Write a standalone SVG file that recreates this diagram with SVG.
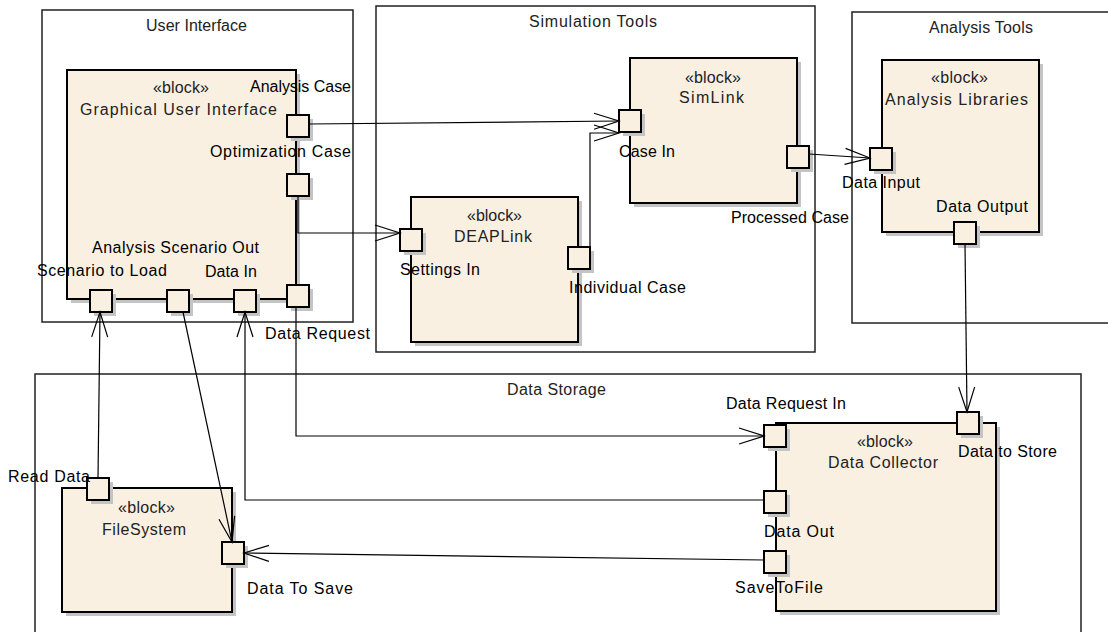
<svg xmlns="http://www.w3.org/2000/svg" width="1108" height="632" viewBox="0 0 1108 632">
<style>
.pkg{fill:#fff;stroke:#222;stroke-width:1.5}
.blk{fill:#FAF0E2;stroke:#000;stroke-width:2}
.shd{fill:#c4c4c4}
.port{fill:#FAF0E2;stroke:#000;stroke-width:2}
.ttl{font-family:"Liberation Sans",Arial,sans-serif;font-size:16px;fill:#222}
.bt{font-family:"Liberation Sans",Arial,sans-serif;font-size:16px;fill:#222}
.pl{font-family:"Liberation Sans",Arial,sans-serif;font-size:16px;fill:#000}
.con{fill:none;stroke:#000;stroke-width:1.2}
</style>
<defs>
<marker id="arr" markerUnits="userSpaceOnUse" markerWidth="30" markerHeight="20" viewBox="-27 -10 30 20" refX="0" refY="0" orient="auto">
<path d="M-25,-8 L0,0 L-25,8" fill="none" stroke="#000" stroke-width="1.2"/>
</marker>
</defs>
<rect width="1108" height="632" fill="#fff"/>

<g id="pkg-user-interface">
<rect class="pkg" x="42" y="10" width="311" height="312"/>
<text class="ttl" x="146" y="31" textLength="101" lengthAdjust="spacing">User Interface</text>
</g>
<g id="pkg-simulation-tools">
<rect class="pkg" x="376" y="6" width="439" height="346"/>
<text class="ttl" x="529" y="27" textLength="128" lengthAdjust="spacing">Simulation Tools</text>
</g>
<g id="pkg-analysis-tools">
<rect class="pkg" x="852" y="12" width="300" height="311"/>
<text class="ttl" x="929" y="33" textLength="104" lengthAdjust="spacing">Analysis Tools</text>
</g>
<g id="pkg-data-storage">
<rect class="pkg" x="35" y="374" width="1046" height="300"/>
<text class="ttl" x="507" y="395" textLength="99" lengthAdjust="spacing">Data Storage</text>
</g>

<g id="gui">
<rect class="shd" x="71" y="74" width="229" height="229"/>
<rect class="blk" x="67" y="70" width="229" height="229"/>
<text class="bt" x="153" y="93" textLength="56" lengthAdjust="spacing">«block»</text>
<text class="bt" x="80" y="115" textLength="197" lengthAdjust="spacing">Graphical User Interface</text>
<rect class="shd" x="291" y="119" width="22" height="22"/>
<rect class="port" x="287" y="115" width="22" height="22"/>
<rect class="shd" x="291" y="178" width="22" height="22"/>
<rect class="port" x="287" y="174" width="22" height="22"/>
<rect class="shd" x="291" y="289" width="22" height="22"/>
<rect class="port" x="287" y="285" width="22" height="22"/>
<rect class="shd" x="94" y="294" width="22" height="22"/>
<rect class="port" x="90" y="290" width="22" height="22"/>
<rect class="shd" x="171" y="294" width="22" height="22"/>
<rect class="port" x="167" y="290" width="22" height="22"/>
<rect class="shd" x="238" y="294" width="22" height="22"/>
<rect class="port" x="234" y="290" width="22" height="22"/>
<text class="pl" x="250" y="92" textLength="101" lengthAdjust="spacing">Analysis Case</text>
<text class="pl" x="210" y="157" textLength="141" lengthAdjust="spacing">Optimization Case</text>
<text class="pl" x="92" y="253" textLength="167" lengthAdjust="spacing">Analysis Scenario Out</text>
<text class="pl" x="37" y="276" textLength="130" lengthAdjust="spacing">Scenario to Load</text>
<text class="pl" x="205" y="277" textLength="52" lengthAdjust="spacing">Data In</text>
<text class="pl" x="265" y="339" textLength="105" lengthAdjust="spacing">Data Request</text>
</g>

<g id="simlink">
<rect class="shd" x="634" y="62" width="167" height="145"/>
<rect class="blk" x="630" y="58" width="167" height="145"/>
<text class="bt" x="685" y="83" textLength="56" lengthAdjust="spacing">«block»</text>
<text class="bt" x="679" y="103" textLength="65" lengthAdjust="spacing">SimLink</text>
<rect class="shd" x="623" y="114" width="22" height="22"/>
<rect class="port" x="619" y="110" width="22" height="22"/>
<rect class="shd" x="791" y="150" width="22" height="22"/>
<rect class="port" x="787" y="146" width="22" height="22"/>
<text class="pl" x="619" y="157" textLength="56" lengthAdjust="spacing">Case In</text>
<text class="pl" x="731" y="223" textLength="118" lengthAdjust="spacing">Processed Case</text>
</g>

<g id="deaplink">
<rect class="shd" x="415" y="201" width="167" height="145"/>
<rect class="blk" x="411" y="197" width="167" height="145"/>
<text class="bt" x="467" y="221" textLength="55" lengthAdjust="spacing">«block»</text>
<text class="bt" x="454" y="242" textLength="78" lengthAdjust="spacing">DEAPLink</text>
<rect class="shd" x="404" y="233" width="22" height="22"/>
<rect class="port" x="400" y="229" width="22" height="22"/>
<rect class="shd" x="572" y="251" width="22" height="22"/>
<rect class="port" x="568" y="247" width="22" height="22"/>
<text class="pl" x="400" y="275" textLength="80" lengthAdjust="spacing">Settings In</text>
<text class="pl" x="569" y="293" textLength="117" lengthAdjust="spacing">Individual Case</text>
</g>

<g id="analysis-libraries">
<rect class="shd" x="886" y="64" width="157" height="172"/>
<rect class="blk" x="882" y="60" width="157" height="172"/>
<text class="bt" x="931" y="83" textLength="57" lengthAdjust="spacing">«block»</text>
<text class="bt" x="885" y="105" textLength="143" lengthAdjust="spacing">Analysis Libraries</text>
<rect class="shd" x="874" y="152" width="22" height="22"/>
<rect class="port" x="870" y="148" width="22" height="22"/>
<rect class="shd" x="958" y="226" width="22" height="22"/>
<rect class="port" x="954" y="222" width="22" height="22"/>
<text class="pl" x="842" y="188" textLength="78" lengthAdjust="spacing">Data Input</text>
<text class="pl" x="936" y="212" textLength="92" lengthAdjust="spacing">Data Output</text>
</g>

<g id="filesystem">
<rect class="shd" x="66" y="492" width="170" height="124"/>
<rect class="blk" x="62" y="488" width="170" height="124"/>
<text class="bt" x="118" y="513" textLength="57" lengthAdjust="spacing">«block»</text>
<text class="bt" x="102" y="535" textLength="84" lengthAdjust="spacing">FileSystem</text>
<rect class="shd" x="91" y="482" width="22" height="22"/>
<rect class="port" x="87" y="478" width="22" height="22"/>
<rect class="shd" x="226" y="546" width="22" height="22"/>
<rect class="port" x="222" y="542" width="22" height="22"/>
<text class="pl" x="8" y="482" textLength="82" lengthAdjust="spacing">Read Data</text>
<text class="pl" x="247" y="594" textLength="106" lengthAdjust="spacing">Data To Save</text>
</g>

<g id="data-collector">
<rect class="shd" x="780" y="427" width="220" height="188"/>
<rect class="blk" x="776" y="423" width="220" height="188"/>
<text class="bt" x="857" y="447" textLength="56" lengthAdjust="spacing">«block»</text>
<text class="bt" x="828" y="468" textLength="110" lengthAdjust="spacing">Data Collector</text>
<rect class="shd" x="768" y="429" width="22" height="22"/>
<rect class="port" x="764" y="425" width="22" height="22"/>
<rect class="shd" x="961" y="416" width="22" height="22"/>
<rect class="port" x="957" y="412" width="22" height="22"/>
<rect class="shd" x="768" y="495" width="22" height="22"/>
<rect class="port" x="764" y="491" width="22" height="22"/>
<rect class="shd" x="768" y="555" width="22" height="22"/>
<rect class="port" x="764" y="551" width="22" height="22"/>
<text class="pl" x="726" y="409" textLength="120" lengthAdjust="spacing">Data Request In</text>
<text class="pl" x="958" y="457" textLength="99" lengthAdjust="spacing">Data to Store</text>
<text class="pl" x="764" y="537" textLength="70" lengthAdjust="spacing">Data Out</text>
<text class="pl" x="735" y="593" textLength="88" lengthAdjust="spacing">SaveToFile</text>
</g>

<g id="connectors">
<path class="con" marker-end="url(#arr)" d="M309,124 L619,121"/>
<path class="con" marker-end="url(#arr)" d="M298,196 V233 H400"/>
<path class="con" marker-end="url(#arr)" d="M590,247 V133 H619"/>
<path class="con" marker-end="url(#arr)" d="M809,154 L870,158"/>
<path class="con" marker-end="url(#arr)" d="M965,244 L967,412"/>
<path class="con" marker-end="url(#arr)" d="M98,478 L100,312"/>
<path class="con" marker-end="url(#arr)" d="M183,312 L232,542"/>
<path class="con" marker-end="url(#arr)" d="M764,500 H245 V312"/>
<path class="con" marker-end="url(#arr)" d="M296,307 V436 H764"/>
<path class="con" marker-end="url(#arr)" d="M764,560 L244,553"/>
</g>
</svg>
